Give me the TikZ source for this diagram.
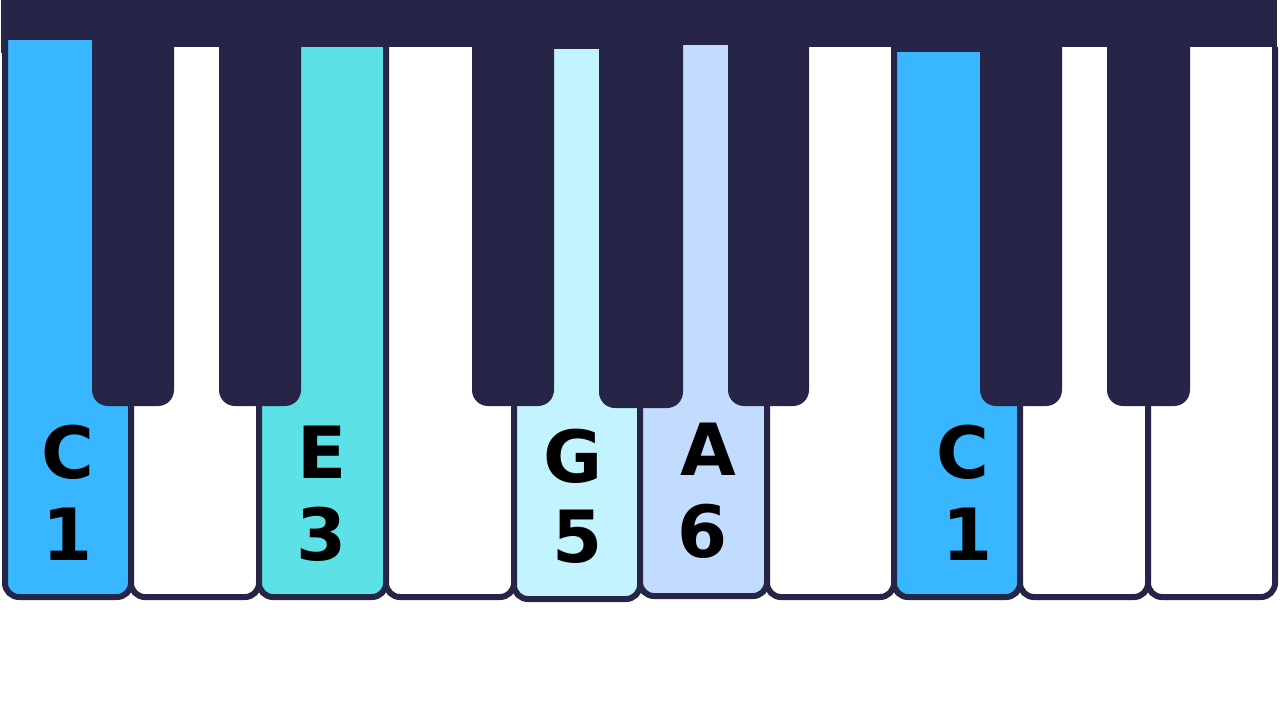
\documentclass[tikz,border=0pt]{standalone}
\usepackage{fontspec}
\newfontfamily\keyfont{DejaVu Sans}
\usepackage{tikz}
\definecolor{keydark}{HTML}{262547}
\definecolor{keyblue}{HTML}{38B6FF}
\definecolor{keyteal}{HTML}{5CE1E6}
\definecolor{keycyan}{HTML}{C1F4FE}
\definecolor{keysky}{HTML}{C2DCFF}

\begin{document}
\begin{tikzpicture}[x=0.5pt,y=-0.5pt,
		whitekey/.style={draw=keydark,line width=3pt,rounded corners=7pt},
		blackkey/.style={fill=keydark,rounded corners=8pt},
		notename/.style={font=\keyfont\bfseries\fontsize{36}{40}\selectfont,anchor=base,inner sep=0pt}]
		\useasboundingbox (0,0) rectangle (1280,720);
		% top rail
		\fill[keydark] (1,0) rectangle (1277,53);
		% white keys
		\draw[whitekey,fill=keyblue] (5,40) -- (5,597) -- (131,597) -- (131,40);
		\draw[whitekey,fill=white] (131,47) -- (131,597) -- (259,597) -- (259,47);
		\draw[whitekey,fill=keyteal] (259,47) -- (259,597) -- (386,597) -- (386,47);
		\draw[whitekey,fill=white] (386,47) -- (386,597) -- (514,597) -- (514,47);
		\draw[whitekey,fill=keycyan] (514,49) -- (514,599) -- (640,599) -- (640,49);
		\draw[whitekey,fill=keysky] (640,45) -- (640,596) -- (767,596) -- (767,45);
		\draw[whitekey,fill=white] (767,47) -- (767,597) -- (894,597) -- (894,47);
		\draw[whitekey,fill=keyblue] (894,52) -- (894,597) -- (1020,597) -- (1020,52);
		\draw[whitekey,fill=white] (1020,47) -- (1020,597) -- (1148,597) -- (1148,47);
		\draw[whitekey,fill=white] (1148,47) -- (1148,597) -- (1275,597) -- (1275,47);
		% black keys
		\fill[blackkey] (92,0) -- (92,406) -- (174,406) -- (174,0);
		\fill[blackkey] (219,0) -- (219,406) -- (301,406) -- (301,0);
		\fill[blackkey] (472,0) -- (472,406) -- (554,406) -- (554,0);
		\fill[blackkey] (599,0) -- (599,408) -- (683,408) -- (683,0);
		\fill[blackkey] (728,0) -- (728,406) -- (809,406) -- (809,0);
		\fill[blackkey] (980,0) -- (980,406) -- (1062,406) -- (1062,0);
		\fill[blackkey] (1107,0) -- (1107,406) -- (1190,406) -- (1190,0);
		% note names and degrees
		\node[notename] (noteC) at (68,478) {C};
		\node[notename] (degC) at (68,560) {1};
		\node[notename] (noteE) at (322,478) {E};
		\node[notename] (degE) at (322,560) {3};
		\node[notename] (noteG) at (573,482) {G};
		\node[notename] (degG) at (578,562) {5};
		\node[notename] (noteA) at (708,475) {A};
		\node[notename] (degA) at (703,557) {6};
		\node[notename] (noteCc) at (963,478) {C};
		\node[notename] (degCc) at (968,560) {1};
\end{tikzpicture}
\end{document}
